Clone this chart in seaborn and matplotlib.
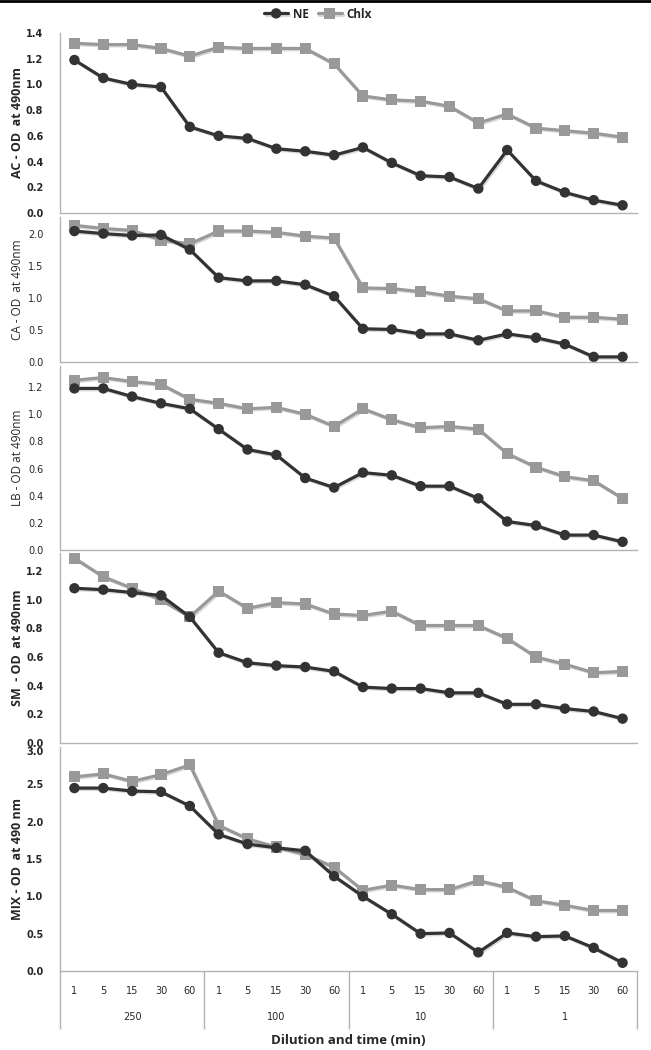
import matplotlib
matplotlib.use('Agg')
import matplotlib.pyplot as plt
import matplotlib.patheffects as pe
import numpy as np
import pandas as pd
import seaborn as sns

# Data
dilutions = ['250', '100', '10', '1']
times = ['1', '5', '15', '30', '60']

ac_ne = [1.19, 1.05, 1.00, 0.98, 0.67, 0.60, 0.58, 0.50, 0.48, 0.45,
         0.51, 0.39, 0.29, 0.28, 0.19, 0.49, 0.25, 0.16, 0.10, 0.06]
ac_chlx = [1.32, 1.31, 1.31, 1.28, 1.22, 1.29, 1.28, 1.28, 1.28, 1.16,
           0.91, 0.88, 0.87, 0.83, 0.70, 0.77, 0.66, 0.64, 0.62, 0.59]

ca_ne = [2.05, 2.01, 1.98, 1.99, 1.76, 1.32, 1.27, 1.27, 1.21, 1.03,
         0.52, 0.51, 0.44, 0.44, 0.34, 0.44, 0.38, 0.28, 0.08, 0.08]
ca_chlx = [2.14, 2.09, 2.06, 1.91, 1.85, 2.05, 2.05, 2.03, 1.97, 1.94,
           1.16, 1.15, 1.10, 1.03, 0.99, 0.80, 0.80, 0.70, 0.70, 0.67]

lb_ne = [1.19, 1.19, 1.13, 1.08, 1.04, 0.89, 0.74, 0.70, 0.53, 0.46,
         0.57, 0.55, 0.47, 0.47, 0.38, 0.21, 0.18, 0.11, 0.11, 0.06]
lb_chlx = [1.25, 1.27, 1.24, 1.22, 1.11, 1.08, 1.04, 1.05, 1.00, 0.91,
           1.04, 0.96, 0.90, 0.91, 0.89, 0.71, 0.61, 0.54, 0.51, 0.38]

sm_ne = [1.08, 1.07, 1.05, 1.03, 0.88, 0.63, 0.56, 0.54, 0.53, 0.50,
         0.39, 0.38, 0.38, 0.35, 0.35, 0.27, 0.27, 0.24, 0.22, 0.17]
sm_chlx = [1.29, 1.16, 1.08, 1.00, 0.88, 1.06, 0.94, 0.98, 0.97, 0.90,
           0.89, 0.92, 0.82, 0.82, 0.82, 0.73, 0.60, 0.55, 0.49, 0.50]

mix_ne = [2.45, 2.45, 2.41, 2.40, 2.21, 1.83, 1.70, 1.65, 1.61, 1.27,
          1.00, 0.76, 0.50, 0.51, 0.25, 0.51, 0.46, 0.47, 0.31, 0.11]
mix_chlx = [2.60, 2.64, 2.54, 2.63, 2.76, 1.95, 1.77, 1.66, 1.56, 1.39,
            1.08, 1.15, 1.09, 1.09, 1.21, 1.12, 0.94, 0.88, 0.81, 0.81]

panels = [
    ('AC - OD  at 490nm', ac_ne, ac_chlx, [0, 0.2, 0.4, 0.6, 0.8, 1.0, 1.2, 1.4], True),
    ('CA - OD  at 490nm', ca_ne, ca_chlx, [0, 0.5, 1.0, 1.5, 2.0], False),
    ('LB - OD at 490nm', lb_ne, lb_chlx, [0, 0.2, 0.4, 0.6, 0.8, 1.0, 1.2], False),
    ('SM  - OD  at 490nm', sm_ne, sm_chlx, [0, 0.2, 0.4, 0.6, 0.8, 1.0, 1.2], True),
    ('MIX - OD  at 490 nm', mix_ne, mix_chlx, [0, 0.5, 1.0, 1.5, 2.0, 2.5, 3.0], True),
]

# pixel layout: (top, zero line, ymax)
W, H = 651, 1050
boxes = [(33, 213, 1.4), (217, 362, 2.27), (366, 550, 1.355), (553, 743, 1.326), (747, 971, 3.0)]
x_left, x_right = 60, 637

NE_COLOR = '#333333'
CHLX_COLOR = '#999999'
AXIS_COLOR = '#b3b3b3'

sns.set_style('white')
plt.rcParams['font.family'] = ['DejaVu Sans']

fig = plt.figure(figsize=(W / 100, H / 100), dpi=100)

pos = np.arange(len(dilutions) * len(times))
shadow = [pe.SimpleLineShadow(offset=(1.0, -1.0), alpha=0.15, shadow_color='k'), pe.Normal()]

axes = []
for i, ((label, ne, chlx, yt, bold), (top, zero, ymax)) in enumerate(zip(panels, boxes)):
    ax = fig.add_axes([x_left / W, 1 - zero / H, (x_right - x_left) / W, (zero - top) / H])
    ax.patch.set_alpha(0)
    df = pd.DataFrame({'pos': pos, 'NE': ne, 'Chlx': chlx})
    sns.lineplot(data=df, x='pos', y='Chlx', ax=ax, color=CHLX_COLOR, lw=2.3,
                 marker='s', markersize=8, markeredgewidth=0, label='Chlx',
                 path_effects=shadow, legend=False)
    sns.lineplot(data=df, x='pos', y='NE', ax=ax, color=NE_COLOR, lw=2.3,
                 marker='o', markersize=7.5, markeredgewidth=0, label='NE',
                 path_effects=shadow, legend=False)
    ax.set_xlim(-0.5, len(pos) - 0.5)
    ax.set_ylim(0, ymax)
    ax.set_yticks(yt)
    ax.set_yticklabels(['{:.1f}'.format(v) for v in yt], fontsize=7,
                       fontweight='bold' if bold else 'normal')
    ax.tick_params(axis='y', length=0, pad=12)
    if i == 4:
        # top label sits just under the panel above, as in the scan
        ax.get_yticklabels()[-1].set_va('top')
    for s in ['top', 'right']:
        ax.spines[s].set_visible(False)
    for s in ['left', 'bottom']:
        ax.spines[s].set_color(AXIS_COLOR)
        ax.spines[s].set_linewidth(1)
    ax.set_ylabel(label, fontsize=9 if bold else 8.5, fontweight='bold' if bold else 'normal',
                  family=['Open Sans', 'DejaVu Sans'])
    ax.yaxis.set_label_coords(-(x_left - 24) / (x_right - x_left), 0.5)
    ax.set_xlabel('')
    group_edges = np.arange(0, len(pos) + 1, len(times)) - 0.5
    if i < 4:
        ax.set_xticks([])
        ax.set_xticks(group_edges, minor=True)
        ax.tick_params(axis='x', which='minor', length=4, width=1, color=AXIS_COLOR, direction='out')
    else:
        ax.set_xticks(pos)
        ax.set_xticklabels(times * len(dilutions), fontsize=7)
        ax.tick_params(axis='x', which='major', length=0, pad=11)
        ax.set_xticks(np.arange(len(pos) + 1) - 0.5, minor=True)
        ax.tick_params(axis='x', which='minor', length=21.5, width=1, color=AXIS_COLOR, direction='out')
        h = zero - top
        ax.vlines(group_edges, -58 / h, 0, transform=ax.get_xaxis_transform(),
                  colors=AXIS_COLOR, lw=1, clip_on=False)
        for g, d in enumerate(dilutions):
            ax.text(g * len(times) + 2, -46 / h, d, transform=ax.get_xaxis_transform(),
                    ha='center', va='center', fontsize=7)
        ax.text(0.5, -69 / h, 'Dilution and time (min)', transform=ax.transAxes,
                ha='center', va='center', fontsize=9.5, fontweight='bold',
                family=['Open Sans', 'DejaVu Sans'])
    axes.append(ax)

handles, labels = axes[0].get_legend_handles_labels()
order = [labels.index('NE'), labels.index('Chlx')]
fig.legend([handles[k] for k in order], ['NE', 'Chlx'], loc='center', ncol=2,
           bbox_to_anchor=(318 / W, 1 - 14 / H), frameon=False, handlelength=2.0,
           columnspacing=0.8, handletextpad=0.4,
           prop={'family': ['Open Sans', 'DejaVu Sans'], 'weight': 'bold', 'size': 8.5})

# dark border along the top edge of the scan
fig.add_artist(plt.Line2D([0, 1], [1 - 1 / H, 1 - 1 / H], color='black', lw=2, transform=fig.transFigure))

fig.savefig('out.png', dpi=100)
